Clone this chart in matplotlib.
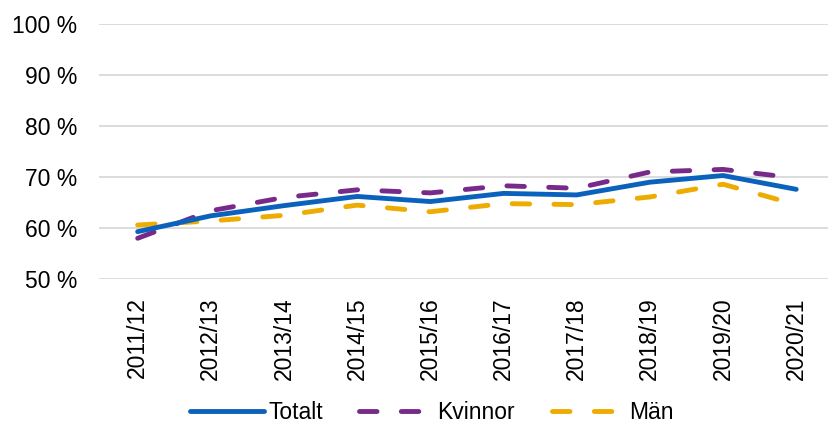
import matplotlib.pyplot as plt
import matplotlib.ticker as mticker

plt.rcParams['font.family'] = ['Liberation Sans', 'DejaVu Sans']

ar = ["2011/12", "2012/13", "2013/14", "2014/15", "2015/16",
      "2016/17", "2017/18", "2018/19", "2019/20", "2020/21"]
totalt = [59.3, 62.4, 64.4, 66.2, 65.2, 66.8, 66.5, 69.0, 70.3, 67.6]
kvinnor = [58.0, 63.4, 66.0, 67.5, 66.9, 68.3, 67.8, 71.0, 71.5, 69.8]
man = [60.6, 61.4, 62.5, 64.5, 63.2, 64.8, 64.6, 66.1, 68.6, 64.6]

fig = plt.figure(figsize=(8.31, 4.30), dpi=100)
ax = fig.add_axes([0.119, 0.351, 0.877, 0.593])

x = list(range(len(ar)))
ax.plot(x, totalt, color="#0A62BD", lw=3.5, solid_capstyle="round", label="Totalt", zorder=3)
ax.plot(x, kvinnor, color="#772A89", lw=3.5, dashes=(3.6, 5.0), dash_capstyle="round",
        label="Kvinnor", zorder=2)
ax.plot(x, man, color="#EEAB00", lw=3.5, dashes=(3.6, 5.0), dash_capstyle="round",
        label="Män", zorder=2)

ax.set_ylim(50, 100)
ax.set_yticks(range(50, 101, 10))
ax.yaxis.set_major_formatter(mticker.FuncFormatter(lambda v, p: f"{v:.0f} %"))
ax.set_xlim(-0.53, 9.43)
ax.set_xticks(x)
ax.set_xticklabels(ar, rotation=90)

ax.grid(axis="y", color="#D9D9D9", lw=1.3)
ax.set_axisbelow(True)
for s in ax.spines.values():
    s.set_visible(False)
ax.tick_params(length=0, labelsize=16.5, colors="#000000")
ax.tick_params(axis="x", pad=13)
ax.tick_params(axis="y", pad=15.5)

fig.legend(loc="lower center", bbox_to_anchor=(0.52, -0.035), ncol=3, frameon=False,
           fontsize=16.5, handlelength=3.2, columnspacing=1.6, handletextpad=0.2)

fig.savefig("out.png", dpi=100)
